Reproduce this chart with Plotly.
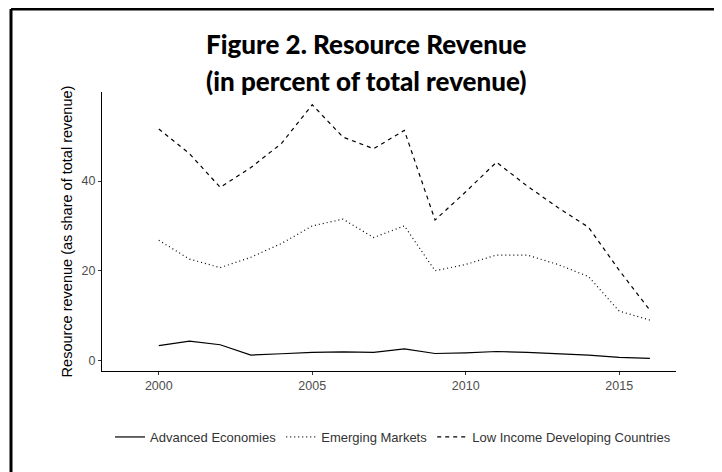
import plotly.graph_objects as go

years = list(range(2000, 2017))
advanced = [3.3, 4.3, 3.5, 1.2, 1.5, 1.8, 1.9, 1.8, 2.6, 1.55, 1.7, 2.0, 1.8, 1.5, 1.2, 0.7, 0.45]
emerging = [26.8, 22.6, 20.7, 23.0, 26.1, 30.0, 31.5, 27.4, 30.0, 20.0, 21.4, 23.5, 23.5, 21.4, 18.7, 11.0, 9.0]
lidc = [51.6, 46.1, 38.6, 43.0, 48.4, 57.0, 49.8, 47.2, 51.3, 31.3, 37.6, 44.2, 38.9, 34.1, 29.7, 20.1, 11.2]

series_names = ["Advanced Economies", "Emerging Markets", "Low Income Developing Countries"]
x_ticks = [2000, 2005, 2010, 2015]
y_ticks = [0, 20, 40]

fig = go.Figure()
styles = ["solid", "1px,3px", "4px,4px"]
for name, vals, dash in zip(series_names, [advanced, emerging, lidc], styles):
    fig.add_trace(go.Scatter(x=years, y=vals, mode="lines", name=name,
                             line=dict(color="black", width=1.2, dash=dash)))

OFF = 8  # page body margin
W, H = 722 - OFF, 472 - OFF
L, T = 102 - OFF, 92 - OFF
R = W - (676 - OFF)
B = H - (371 - OFF)
pw, ph = W - L - R, H - T - B

tfont = dict(family="Lato", size=26, color="black", weight=900)
fig.add_annotation(text="Figure 2. Resource Revenue", xref="paper", yref="paper",
                   x=(366 - OFF - L) / pw, y=1 + (T - (44 - OFF)) / ph,
                   xanchor="center", yanchor="middle", showarrow=False, font=tfont)
fig.add_annotation(text="(in percent of total revenue)", xref="paper", yref="paper",
                   x=(366 - OFF - L) / pw, y=1 + (T - (81 - OFF)) / ph,
                   xanchor="center", yanchor="middle", showarrow=False, font=tfont)

fig.update_layout(
    width=W, height=H,
    margin=dict(l=L, r=R, t=T, b=B),
    paper_bgcolor="white", plot_bgcolor="white",
    xaxis=dict(range=[1998.15, 2016.85], tickvals=x_ticks, showgrid=False, zeroline=False,
               showline=True, linecolor="black", linewidth=1,
               ticks="outside", ticklen=3, tickcolor="#333333", tickwidth=1,
               tickfont=dict(family="Liberation Sans", size=12.5, color="#4d4d4d")),
    yaxis=dict(range=[-2.35, 59.85], tickvals=y_ticks, showgrid=False, zeroline=False,
               showline=True, linecolor="black", linewidth=1,
               ticks="outside", ticklen=3, tickcolor="#333333", tickwidth=1,
               tickfont=dict(family="Liberation Sans", size=12.5, color="#4d4d4d"),
               title=dict(text="Resource revenue (as share of total revenue)", standoff=5,
                          font=dict(family="Liberation Sans", size=14.5, color="black"))),
    legend=dict(orientation="h", x=(393 - 102) / pw, xanchor="center",
                y=(371 - 437) / ph, yanchor="middle",
                font=dict(family="Liberation Sans", size=13, color="#333333"),
                itemwidth=30, bgcolor="rgba(0,0,0,0)"),
    showlegend=True,
)

# black frame on left and top of the picture
fx = (11 - OFF - L) / pw
fy = 1 + (T - (9 - OFF)) / ph
fig.add_shape(type="line", xref="paper", yref="paper",
              x0=fx, x1=fx, y0=-B / ph - 0.05, y1=fy,
              line=dict(color="black", width=3))
fig.add_shape(type="line", xref="paper", yref="paper",
              x0=fx, x1=(W - L) / pw + 0.05, y0=fy, y1=fy,
              line=dict(color="black", width=3))

fig.write_html("out.html")
